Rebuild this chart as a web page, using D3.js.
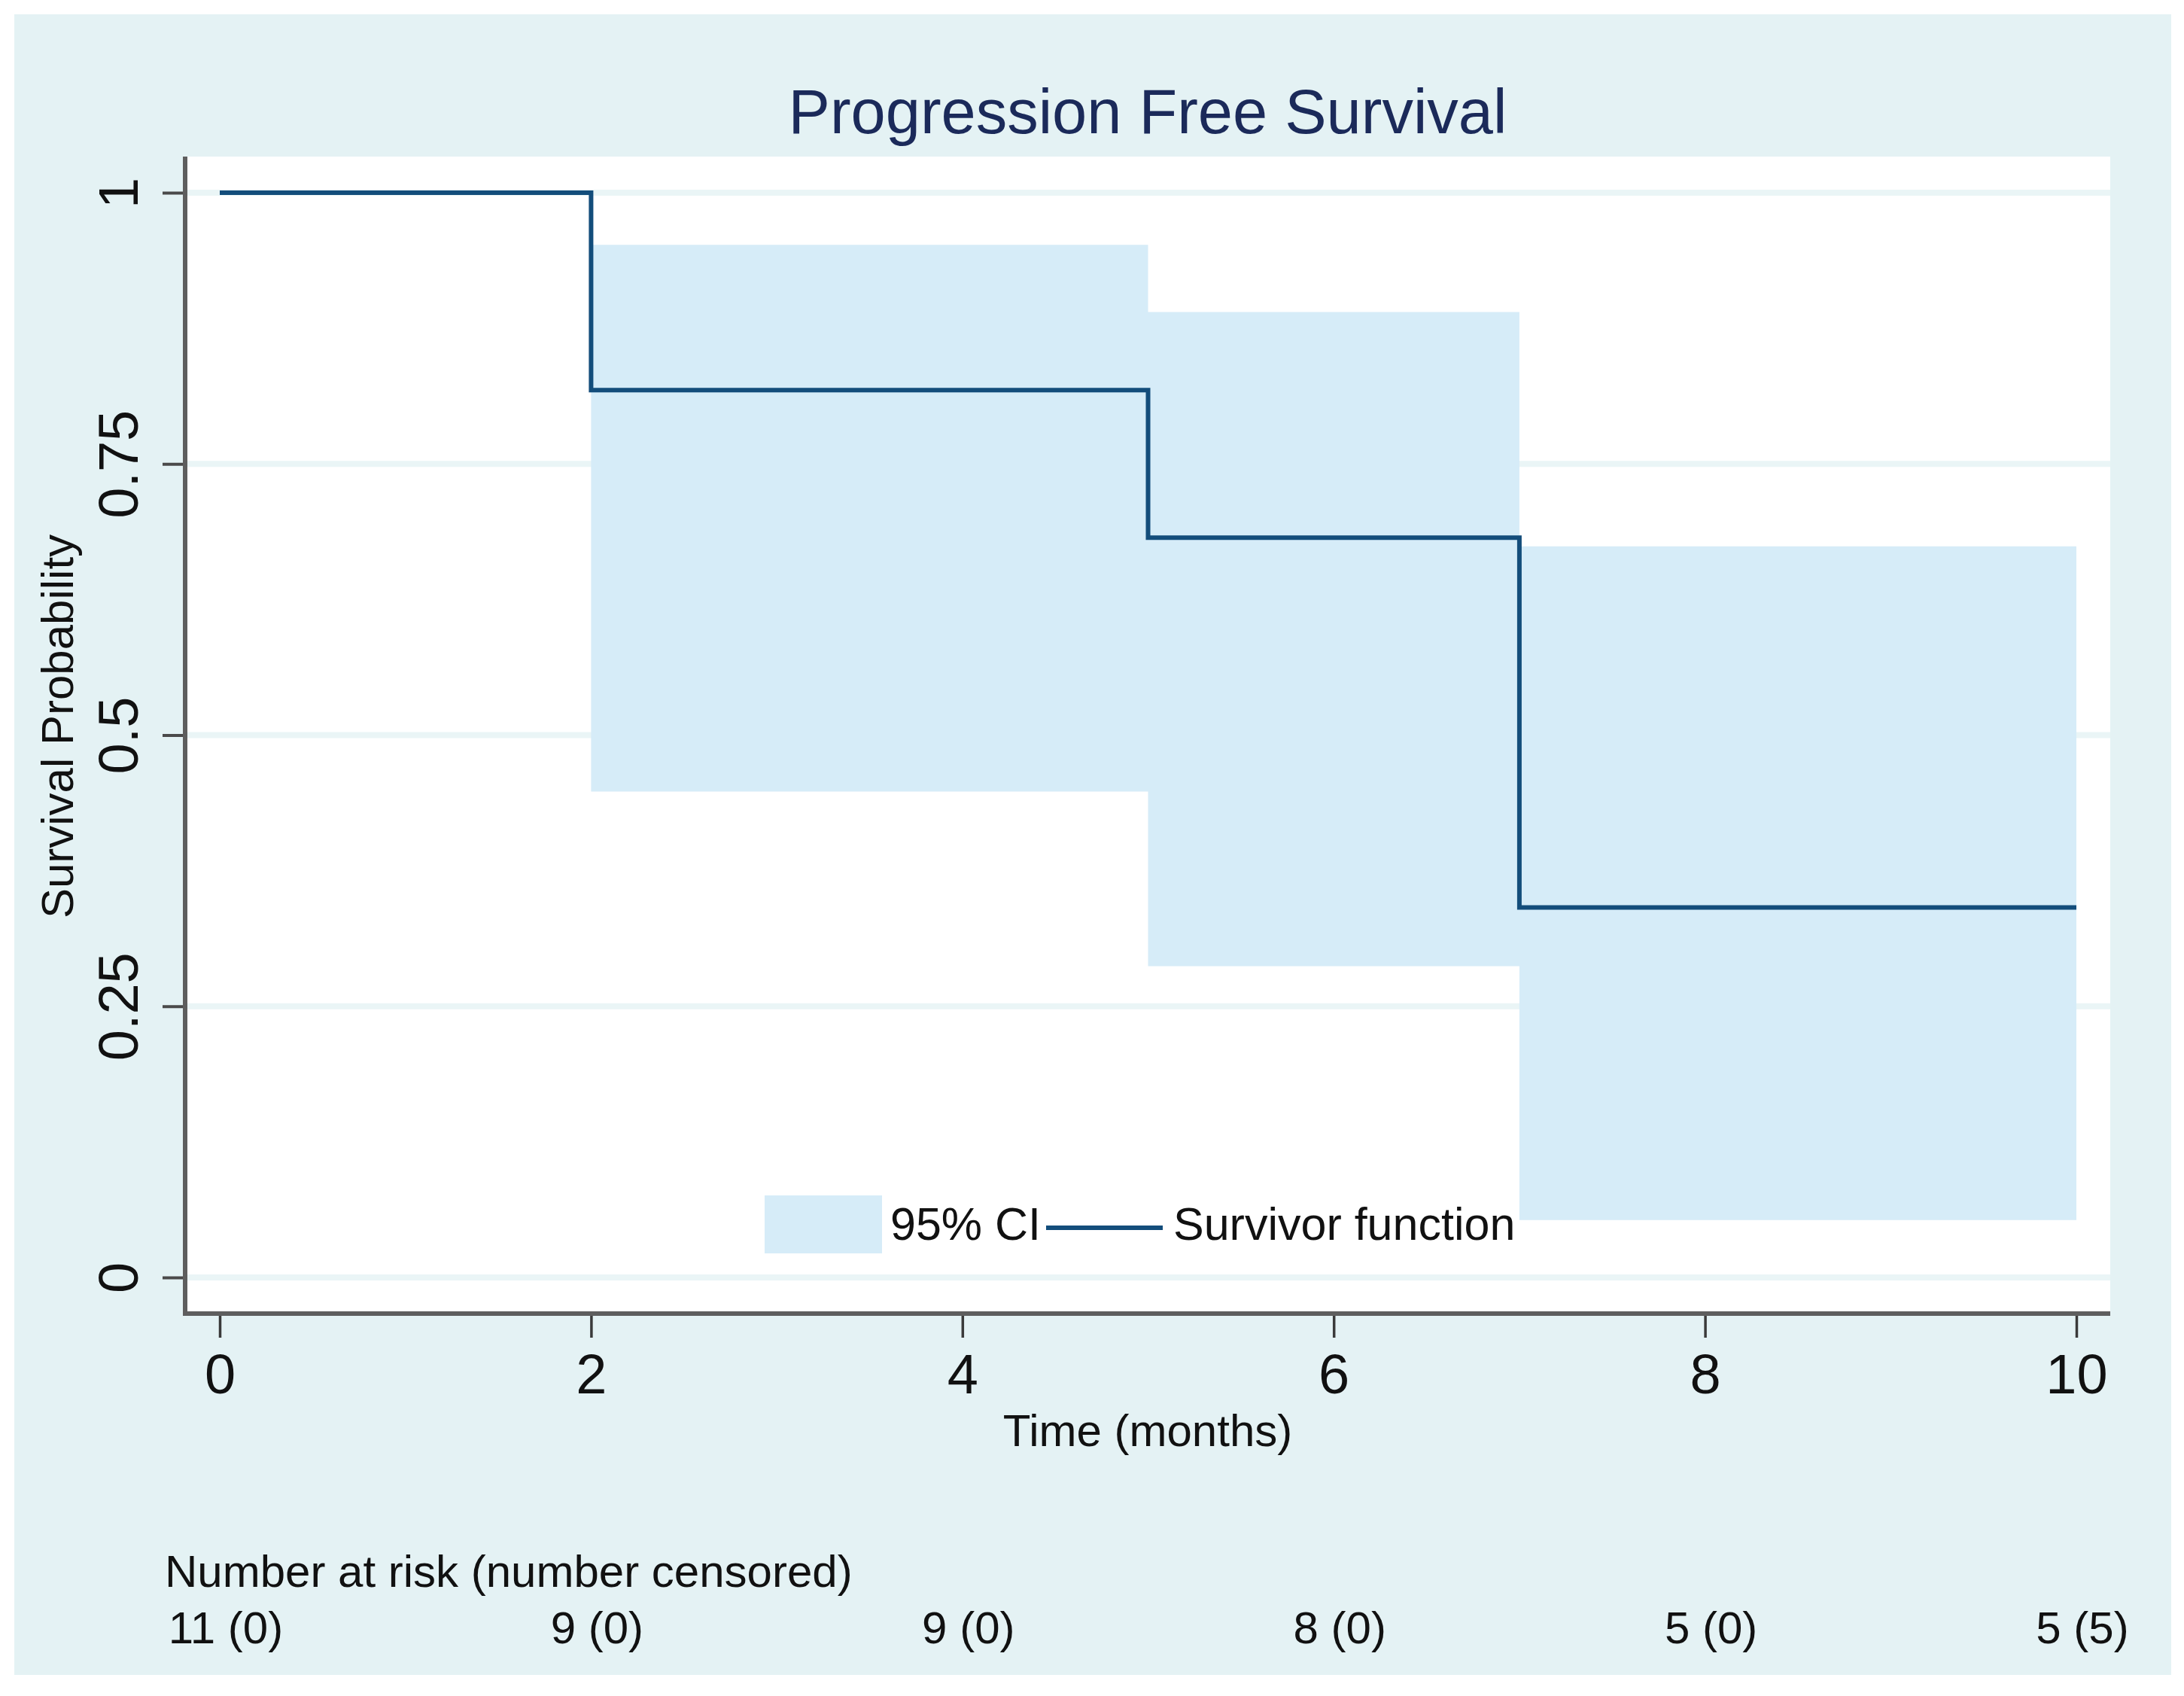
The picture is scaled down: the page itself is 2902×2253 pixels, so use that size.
<!DOCTYPE html>
<html>
<head>
<meta charset="utf-8">
<script src="https://cdn.jsdelivr.net/npm/d3@7"></script>
<style>
  html, body { margin: 0; padding: 0; background: #ffffff; }
  svg { display: block; font-family: "Liberation Sans", Arial, Helvetica, sans-serif; }
</style>
</head>
<body>
<div id="chart"></div>
<script>
/* Kaplan-Meier: Progression Free Survival */

// Survivor function (step after each time)
const stepTimes = [0, 2, 5, 7, 10];
const survival  = [1, 0.818, 0.682, 0.341, 0.341];

// 95% confidence band
const ciTimes = [2, 5, 7, 10];
const ciLower = [0.448, 0.287, 0.053, 0.053];
const ciUpper = [0.952, 0.890, 0.674, 0.674];

// Axes
const xTicks = [0, 2, 4, 6, 8, 10];
const yTicks = [0, 0.25, 0.5, 0.75, 1];
const yTickLabels = ['0', '0.25', '0.5', '0.75', '1'];

// Number at risk table
const riskTimes  = [0, 2, 4, 6, 8, 10];
const riskLabels = ['11 (0)', '9 (0)', '9 (0)', '8 (0)', '5 (0)', '5 (5)'];

const W = 2902, H = 2253;
const COLORS = {
  outer: '#e4f2f4',
  plot: '#ffffff',
  grid: '#eaf5f6',
  ci: '#d6ecf8',
  line: '#134d7b',
  axis: '#5e5e5e',
  title: '#1b2a5a',
  text: '#111111'
};

const plot = { left: 246, right: 2804, top: 208, bottom: 1745 };

const svg = d3.select('#chart').append('svg')
  .attr('width', W).attr('height', H);

// Graph region
svg.append('rect')
  .attr('x', 19).attr('y', 19)
  .attr('width', 2885 - 19).attr('height', 2225 - 19)
  .attr('fill', COLORS.outer);

// Plot region
svg.append('rect')
  .attr('x', plot.left).attr('y', plot.top)
  .attr('width', plot.right - plot.left).attr('height', plot.bottom - plot.top)
  .attr('fill', COLORS.plot);

const x = d3.scaleLinear().domain([0, 10]).range([292, 2759]);
const y = d3.scaleLinear().domain([0, 1]).range([1697, 256]);

// Gridlines
svg.append('g').selectAll('line').data(yTicks).join('line')
  .attr('x1', plot.left + 3).attr('x2', plot.right)
  .attr('y1', d => y(d)).attr('y2', d => y(d))
  .attr('stroke', COLORS.grid).attr('stroke-width', 8);

// CI band
const ciData = ciTimes.map((t, i) => ({ t, lo: ciLower[i], hi: ciUpper[i] }));
const area = d3.area()
  .curve(d3.curveStepAfter)
  .x(d => x(d.t))
  .y0(d => y(d.lo))
  .y1(d => y(d.hi));
svg.append('path').datum(ciData)
  .attr('d', area)
  .attr('fill', COLORS.ci);

// Survivor function
const survData = stepTimes.map((t, i) => ({ t, s: survival[i] }));
const line = d3.line()
  .curve(d3.curveStepAfter)
  .x(d => x(d.t))
  .y(d => y(d.s));
svg.append('path').datum(survData)
  .attr('d', line)
  .attr('fill', 'none')
  .attr('stroke', COLORS.line)
  .attr('stroke-width', 6)
  .attr('stroke-linejoin', 'miter');

// Legend
const lg = svg.append('g').attr('font-size', 61).attr('fill', COLORS.text);
lg.append('rect')
  .attr('x', 1016).attr('y', 1588).attr('width', 156).attr('height', 77)
  .attr('fill', COLORS.ci);
lg.append('text').attr('x', 1183).attr('y', 1647).text('95% CI');
lg.append('line')
  .attr('x1', 1390).attr('x2', 1545).attr('y1', 1631).attr('y2', 1631)
  .attr('stroke', COLORS.line).attr('stroke-width', 6);
lg.append('text').attr('x', 1559).attr('y', 1647).text('Survivor function');

// X axis
const xAxis = svg.append('g')
  .attr('transform', `translate(0,${plot.bottom})`)
  .call(d3.axisBottom(x).tickValues(xTicks).tickSize(32).tickPadding(21).tickFormat(d3.format('d')));
xAxis.select('.domain').remove();
xAxis.selectAll('.tick line').attr('stroke', '#3a3a3a').attr('stroke-width', 3.5);
xAxis.selectAll('.tick text')
  .attr('font-size', 74).attr('font-family', null).attr('fill', COLORS.text);

// Y axis
const yAxis = svg.append('g')
  .attr('transform', `translate(${plot.left},0)`)
  .call(d3.axisLeft(y).tickValues(yTicks).tickSize(30).tickFormat((d, i) => yTickLabels[i]));
yAxis.select('.domain').remove();
yAxis.selectAll('.tick line').attr('stroke', '#4a4a4a').attr('stroke-width', 4);
yAxis.selectAll('.tick text')
  .attr('x', null).attr('dy', null)
  .attr('text-anchor', 'middle')
  .attr('transform', 'translate(-63,0) rotate(-90)')
  .attr('font-size', 74).attr('font-family', null).attr('fill', COLORS.text);

// Axis lines
svg.append('line')
  .attr('x1', plot.left).attr('x2', plot.left)
  .attr('y1', plot.top).attr('y2', plot.bottom + 3)
  .attr('stroke', COLORS.axis).attr('stroke-width', 6);
svg.append('line')
  .attr('x1', plot.left - 3).attr('x2', plot.right)
  .attr('y1', plot.bottom).attr('y2', plot.bottom)
  .attr('stroke', COLORS.axis).attr('stroke-width', 6);

// Titles
svg.append('text')
  .attr('x', (plot.left + plot.right) / 2).attr('y', 177)
  .attr('text-anchor', 'middle')
  .attr('font-size', 83).attr('fill', COLORS.title)
  .text('Progression Free Survival');

svg.append('text')
  .attr('x', (plot.left + plot.right) / 2).attr('y', 1921)
  .attr('text-anchor', 'middle')
  .attr('font-size', 60).attr('fill', COLORS.text)
  .text('Time (months)');

svg.append('text')
  .attr('transform', 'translate(97,965) rotate(-90)')
  .attr('text-anchor', 'middle')
  .attr('font-size', 60).attr('fill', COLORS.text)
  .text('Survival Probability');

// Number at risk table
svg.append('text')
  .attr('x', 219).attr('y', 2108)
  .attr('font-size', 60).attr('fill', COLORS.text)
  .text('Number at risk (number censored)');

svg.append('g').selectAll('text').data(riskTimes).join('text')
  .attr('x', d => x(d) + 8).attr('y', 2183)
  .attr('text-anchor', 'middle')
  .attr('font-size', 60).attr('fill', COLORS.text)
  .text((d, i) => riskLabels[i]);
</script>
</body>
</html>
